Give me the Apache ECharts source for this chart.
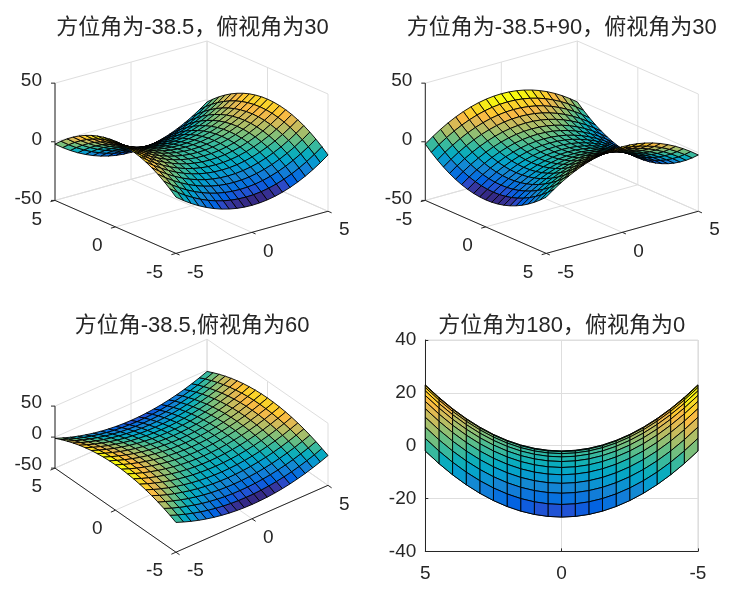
<!DOCTYPE html>
<html><head><meta charset="utf-8">
<style>html,body{margin:0;padding:0;background:#fff}#c{width:752px;height:591px}</style>
<script src="https://cdn.jsdelivr.net/npm/echarts@6/dist/echarts.min.js"></script>
</head><body><div id="c"></div>
<script>
// ---------- data ----------
const titles = ['方位角为-38.5，俯视角为30','方位角为-38.5+90，俯视角为30','方位角-38.5,俯视角为60','方位角为180，俯视角为0'];
const azimuths = [-38.5, 51.5, -38.5, 180];
const elevations = [30, 30, 60, 0];
const xValues = [-5,-4.5,-4,-3.5,-3,-2.5,-2,-1.5,-1,-0.5,0,0.5,1,1.5,2,2.5,3,3.5,4,4.5,5];
const yValues = [-5,-4.5,-4,-3.5,-3,-2.5,-2,-1.5,-1,-0.5,0,0.5,1,1.5,2,2.5,3,3.5,4,4.5,5];
const zAt50 = [-2,-6.75,-11,-14.75,-18,-20.75,-23,-24.75,-26,-26.75,-27,-26.75,-26,-24.75,-23,-20.75,-18,-14.75,-11,-6.75,-2];
const zAt45 = [2.75,-2,-6.25,-10,-13.25,-16,-18.25,-20,-21.25,-22,-22.25,-22,-21.25,-20,-18.25,-16,-13.25,-10,-6.25,-2,2.75];
const zAt40 = [7,2.25,-2,-5.75,-9,-11.75,-14,-15.75,-17,-17.75,-18,-17.75,-17,-15.75,-14,-11.75,-9,-5.75,-2,2.25,7];
const zAt35 = [10.75,6,1.75,-2,-5.25,-8,-10.25,-12,-13.25,-14,-14.25,-14,-13.25,-12,-10.25,-8,-5.25,-2,1.75,6,10.75];
const zAt30 = [14,9.25,5,1.25,-2,-4.75,-7,-8.75,-10,-10.75,-11,-10.75,-10,-8.75,-7,-4.75,-2,1.25,5,9.25,14];
const zAt25 = [16.75,12,7.75,4,0.75,-2,-4.25,-6,-7.25,-8,-8.25,-8,-7.25,-6,-4.25,-2,0.75,4,7.75,12,16.75];
const zAt20 = [19,14.25,10,6.25,3,0.25,-2,-3.75,-5,-5.75,-6,-5.75,-5,-3.75,-2,0.25,3,6.25,10,14.25,19];
const zAt15 = [20.75,16,11.75,8,4.75,2,-0.25,-2,-3.25,-4,-4.25,-4,-3.25,-2,-0.25,2,4.75,8,11.75,16,20.75];
const zAt10 = [22,17.25,13,9.25,6,3.25,1,-0.75,-2,-2.75,-3,-2.75,-2,-0.75,1,3.25,6,9.25,13,17.25,22];
const zAt05 = [22.75,18,13.75,10,6.75,4,1.75,0,-1.25,-2,-2.25,-2,-1.25,0,1.75,4,6.75,10,13.75,18,22.75];
const zAt00 = [23,18.25,14,10.25,7,4.25,2,0.25,-1,-1.75,-2,-1.75,-1,0.25,2,4.25,7,10.25,14,18.25,23];
const zRows = [zAt50,zAt45,zAt40,zAt35,zAt30,zAt25,zAt20,zAt15,zAt10,zAt05,zAt00,zAt05,zAt10,zAt15,zAt20,zAt25,zAt30,zAt35,zAt40,zAt45,zAt50];
const xyTicks = [-5,0,5];
const zTicks = [-50,0,50];
const flatZTicks = [-40,-20,0,20,40];
const parula = [[.2081,.1663,.5292],[.2116,.1898,.5777],[.2123,.2138,.6270],[.2081,.2386,.6771],[.1959,.2645,.7279],[.1707,.2919,.7792],[.1253,.3242,.8303],[.0591,.3598,.8683],[.0117,.3875,.8820],[.0060,.4086,.8828],[.0165,.4266,.8786],[.0329,.4430,.8720],[.0498,.4586,.8641],[.0629,.4737,.8554],[.0723,.4887,.8467],[.0779,.5040,.8384],[.0793,.5200,.8312],[.0749,.5375,.8263],[.0641,.5570,.8240],[.0488,.5772,.8228],[.0343,.5966,.8199],[.0265,.6137,.8135],[.0239,.6287,.8038],[.0231,.6418,.7913],[.0228,.6535,.7768],[.0267,.6642,.7607],[.0384,.6743,.7436],[.0590,.6838,.7254],[.0843,.6928,.7062],[.1133,.7015,.6859],[.1453,.7098,.6646],[.1801,.7177,.6424],[.2178,.7250,.6193],[.2586,.7317,.5954],[.3022,.7376,.5712],[.3482,.7424,.5473],[.3953,.7459,.5244],[.4420,.7481,.5033],[.4871,.7491,.4840],[.5300,.7491,.4661],[.5709,.7485,.4494],[.6099,.7473,.4337],[.6473,.7456,.4188],[.6834,.7435,.4044],[.7184,.7411,.3905],[.7525,.7384,.3768],[.7858,.7356,.3633],[.8185,.7327,.3498],[.8507,.7299,.3360],[.8824,.7274,.3217],[.9139,.7258,.3063],[.9450,.7261,.2886],[.9739,.7314,.2666],[.9938,.7455,.2403],[.9990,.7653,.2164],[.9955,.7861,.1967],[.9880,.8066,.1794],[.9789,.8271,.1633],[.9697,.8481,.1475],[.9626,.8705,.1309],[.9589,.8949,.1132],[.9598,.9218,.0948],[.9661,.9514,.0755],[.9763,.9831,.0538]];

// ---------- layout ----------
const rects = [
  {left:55, top:41, width:273, height:212.4},
  {left:425.3, top:41, width:273, height:212.4},
  {left:55, top:339.2, width:273, height:213},
  {left:425.3, top:340, width:272.6, height:211.4}
];
const titleCenters = [[192.5,28],[561.8,28],[192,326],[561.8,326]];
const zLabelShift = [-2,-2,-3.5];
const FONT = '"Liberation Sans","Noto Sans CJK SC",sans-serif';
const INK = '#262626', GRID = '#dedede';
const LABEL_SIZE = 19;
const LABEL_FONT = LABEL_SIZE+'px "Liberation Sans",sans-serif';

const rad = d => d*Math.PI/180;
const zLo = Math.min(...zRows.flat()), zHi = Math.max(...zRows.flat());
function faceColor(z){
  const k = Math.min(63, Math.floor((z-zLo)/(zHi-zLo)*64));
  const c = parula[k];
  return `rgb(${Math.round(c[0]*255)},${Math.round(c[1]*255)},${Math.round(c[2]*255)})`;
}
function viewOf(az, el){
  const sa=Math.sin(rad(az)), ca=Math.cos(rad(az)), se=Math.sin(rad(el)), ce=Math.cos(rad(el));
  const n3 = (x,y,z) => [x/10, y/10, z/100];
  return {
    sa, ca, se, ce,
    uMax: (Math.abs(ca)+Math.abs(sa))/2,
    vMax: se*(Math.abs(sa)+Math.abs(ca))/2 + ce/2,
    project(x,y,z){ const n=n3(x,y,z); return [ca*n[0]+sa*n[1], se*(-sa*n[0]+ca*n[1])+ce*n[2]]; },
    depth(x,y,z){ const n=n3(x,y,z); return ce*sa*n[0]-ce*ca*n[1]+se*n[2]; }
  };
}

const option = {animation:false, backgroundColor:'#fff', title:[], grid:[], xAxis:[], yAxis:[], series:[]};

titles.forEach((t,i)=>option.title.push({
  text:t, left:titleCenters[i][0], top:titleCenters[i][1]-11, textAlign:'center', padding:0,
  textStyle:{fontSize:22,fontWeight:'normal',color:INK,fontFamily:FONT}
}));

function addSurface(p, view, projectFn){
  const faces=[];
  for(let r=0;r<yValues.length-1;r++) for(let c=0;c<xValues.length-1;c++){
    const d=[[c,r],[c+1,r],[c+1,r+1],[c,r+1]].reduce((s,q)=>s+view.depth(xValues[q[0]],yValues[q[1]],zRows[q[1]][q[0]]),0);
    faces.push({r,c,d});
  }
  faces.sort((a,b)=>a.d-b.d);
  option.series.push({
    type:'custom', coordinateSystem:'cartesian2d', xAxisIndex:p, yAxisIndex:p, clip:false, silent:true, z:5,
    data:faces.map(f=>[f.c,f.r]),
    encode:{x:0,y:1},
    renderItem(params,api){
      const f=faces[params.dataIndex], {r,c}=f;
      const pts=[[c,r],[c+1,r],[c+1,r+1],[c,r+1]].map(q=>api.coord(projectFn(xValues[q[0]],yValues[q[1]],zRows[q[1]][q[0]])));
      return {type:'polygon',shape:{points:pts},style:{fill:faceColor(zRows[r][c]),stroke:'#000',lineWidth:0.9}};
    }
  });
}

function add3DFrame(p, view){
  const proj=view.project;
  const xNear=view.sa>0?5:-5, xFar=-xNear, yNear=view.ca>0?-5:5, yFar=-yNear;
  const zMin=zTicks[0], zMax=zTicks[zTicks.length-1];
  // corner at the far left of the picture
  const cands=[[xNear,yFar],[xFar,yNear]];
  const lc=cands.sort((a,b)=>proj(a[0],a[1],0)[0]-proj(b[0],b[1],0)[0])[0];
  const seg=[];
  const G=(a,b)=>seg.push({a,b,color:GRID});
  const K=(a,b)=>seg.push({a,b,color:INK});
  xyTicks.forEach(t=>{
    G([t,yNear,zMin],[t,yFar,zMin]); G([xNear,t,zMin],[xFar,t,zMin]);
    G([t,yFar,zMin],[t,yFar,zMax]); G([xFar,t,zMin],[xFar,t,zMax]);
  });
  zTicks.forEach(t=>{ G([xNear,yFar,t],[xFar,yFar,t]); G([xFar,yNear,t],[xFar,yFar,t]); });
  K([lc[0],lc[1],zMin],[lc[0],lc[1],zMax]);
  K([xNear,yNear,zMin],[xFar,yNear,zMin]);
  K([xNear,yNear,zMin],[xNear,yFar,zMin]);
  const out=0.3;
  xyTicks.forEach(t=>{
    K([t,yNear,zMin],[t,yNear+(yNear-yFar)/10*out,zMin]);
    K([xNear,t,zMin],[xNear+(xNear-xFar)/10*out,t,zMin]);
  });
  const labels=[];
  const rightIsX = proj(xFar,yNear,0)[0] > proj(xNear,yFar,0)[0];
  xyTicks.forEach(t=>{
    const ax=[t,yNear,zMin], ay=[xNear,t,zMin];
    labels.push({pos:ax,text:String(t),rightSide:rightIsX});
    labels.push({pos:ay,text:String(t),rightSide:!rightIsX});
  });
  option.series.push({
    type:'custom', coordinateSystem:'cartesian2d', xAxisIndex:p, yAxisIndex:p, clip:false, silent:true, z:2,
    data:[[0,0]], encode:{x:0,y:1},
    renderItem(params,api){
      const ch=[];
      seg.forEach(s=>{
        const a=api.coord(proj(...s.a)), b=api.coord(proj(...s.b));
        ch.push({type:'line',shape:{x1:a[0],y1:a[1],x2:b[0],y2:b[1]},style:{stroke:s.color,lineWidth:1}});
      });
      zTicks.forEach(t=>{
        const a=api.coord(proj(lc[0],lc[1],t));
        ch.push({type:'line',shape:{x1:a[0]-4,y1:a[1],x2:a[0],y2:a[1]},style:{stroke:INK,lineWidth:1}});
        ch.push({type:'text',style:{text:String(t),x:a[0]-13,y:a[1]+zLabelShift[p],textAlign:'right',textVerticalAlign:'middle',font:LABEL_FONT,fill:INK}});
      });
      labels.forEach(l=>{
        const a=api.coord(proj(...l.pos));
        ch.push({type:'text',style:{text:l.text,x:a[0]+(l.rightSide?11:-13),y:a[1]+19,textAlign:l.rightSide?'left':'right',textVerticalAlign:'middle',font:LABEL_FONT,fill:INK}});
      });
      return {type:'group',children:ch};
    }
  });
}

azimuths.forEach((az,p)=>{
  const view=viewOf(az,elevations[p]);
  const r=rects[p];
  if(p<3){
    option.grid.push({...r,show:false,containLabel:false});
    option.xAxis.push({type:'value',gridIndex:p,show:false,min:-view.uMax,max:view.uMax});
    option.yAxis.push({type:'value',gridIndex:p,show:false,min:-view.vMax,max:view.vMax});
    add3DFrame(p,view);
    addSurface(p,view,view.project);
  } else {
    option.grid.push({...r,show:true,borderColor:GRID,borderWidth:1,backgroundColor:'transparent',containLabel:false});
    const axisCommon={
      axisLine:{show:true,onZero:false,lineStyle:{color:INK,width:1}},
      axisTick:{show:true,inside:true,length:3,lineStyle:{color:INK}},
      splitLine:{show:true,lineStyle:{color:GRID,width:1}},
      axisLabel:{color:INK,fontSize:LABEL_SIZE,fontFamily:'"Liberation Sans",sans-serif',showMinLabel:true,showMaxLabel:true}
    };
    option.xAxis.push({type:'value',gridIndex:p,inverse:true,min:xyTicks[0],max:xyTicks[2],interval:5,...axisCommon,
      axisLabel:{...axisCommon.axisLabel,margin:13,formatter:v=>String(v)}});
    option.yAxis.push({type:'value',gridIndex:p,min:flatZTicks[0],max:flatZTicks[4],interval:20,...axisCommon,
      axisLabel:{...axisCommon.axisLabel,margin:9,padding:[4,0,0,0],formatter:v=>String(v)}});
    addSurface(p,view,(x,y,z)=>[x,z]);
  }
});

const chart=echarts.init(document.getElementById('c'),null,{renderer:'canvas',width:752,height:591});
chart.setOption(option);
</script></body></html>
